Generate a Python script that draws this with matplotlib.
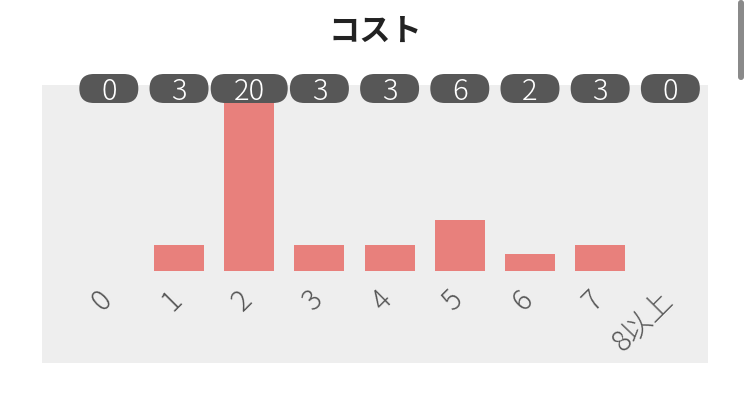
import matplotlib
matplotlib.use('Agg')
import matplotlib.pyplot as plt
from matplotlib.patches import FancyBboxPatch
from matplotlib.transforms import IdentityTransform, ScaledTranslation

plt.rcParams['font.family'] = ['Noto Sans CJK JP', 'DejaVu Sans']

categories = ['0', '1', '2', '3', '4', '5', '6', '7', '8以上']
counts = [0, 3, 20, 3, 3, 6, 2, 3, 0]
title = 'コスト'

W, H = 749, 407
fig = plt.figure(figsize=(W / 100, H / 100), dpi=100)
fig.patch.set_facecolor('white')
ax = fig.add_axes([42 / W, (H - 363) / H, (708 - 42) / W, (363 - 85) / H])
ax.set_facecolor('#eeeeee')
for s in ax.spines.values():
    s.set_visible(False)

x = list(range(len(categories)))
ax.bar(x, counts, width=0.712, color='#e8807c', zorder=2)
ax.set_xlim(-0.952, 8.536)
ax.set_ylim(-10.76, 21.75)
ax.set_yticks([])
ax.set_xticks([])

# rotated category labels
off = ScaledTranslation(9 / 100, -14 / 100, fig.dpi_scale_trans)
for i, lab in enumerate(categories):
    ax.text(i, 0, lab, rotation=45, ha='right', va='top', fontsize=20.5,
            color='#555555', fontweight='light', transform=ax.transData + off)

# count pills above the plot
for i, c in enumerate(counts):
    cx, _ = ax.transData.transform((i, 0))
    cy = H - 88.5
    w = 59 if c < 10 else 77
    h = 29
    p = FancyBboxPatch((cx - w / 2 + h / 2, cy), w - h, 0.0,
                       boxstyle='round,pad=14.5,rounding_size=14.5',
                       transform=IdentityTransform(),
                       facecolor='#575757', edgecolor='none', zorder=5)
    fig.patches.append(p)
    fig.text(cx / W, cy / H, str(c), ha='center', va='center_baseline',
             fontsize=21, fontweight='light', color='white', zorder=6)

fig.text(375 / W, (H - 31.5) / H, title, ha='center', va='center',
         fontsize=22.5, fontweight='bold', color='#222222')

# scrollbar at right edge
sb = FancyBboxPatch((741, H - 77), 0.0, 74, boxstyle='round,pad=3',
                    transform=IdentityTransform(), facecolor='#8a8a8a',
                    edgecolor='none')
fig.patches.append(sb)

fig.savefig('out.png', dpi=100)
